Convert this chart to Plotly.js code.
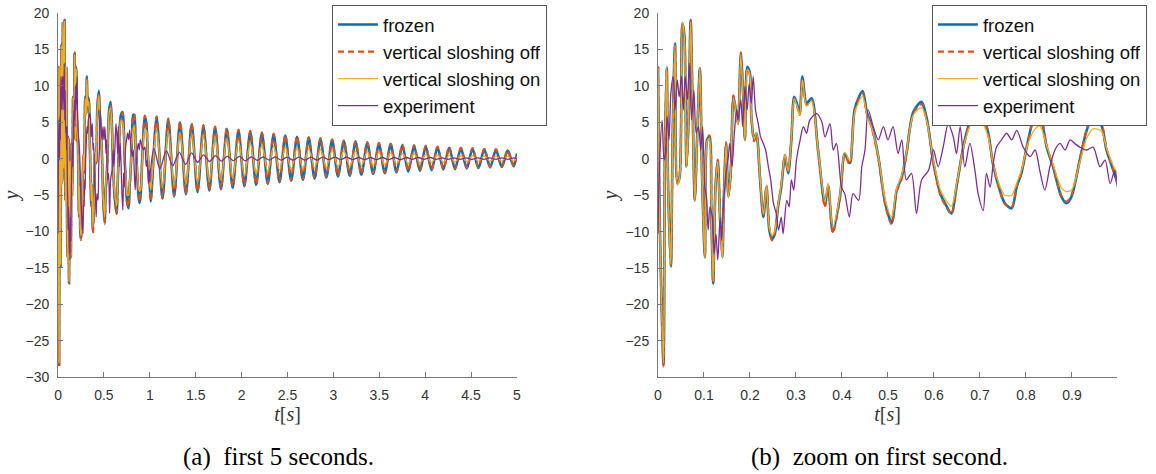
<!DOCTYPE html>
<html>
<head>
<meta charset="utf-8">
<script src="https://cdn.plot.ly/plotly-3.0.1.min.js"></script>
<style>html,body{margin:0;padding:0;background:#fff}#chart{width:1156px;height:474px}</style>
</head>
<body>
<div id="chart"></div>
<script>
// ---- detailed first second (simulations) ----
const tSim = [0, 0.003, 0.007, 0.012, 0.015, 0.019, 0.022, 0.028, 0.032, 0.037,
  0.042, 0.047, 0.053, 0.057, 0.062, 0.066, 0.071, 0.075, 0.080, 0.085,
  0.091, 0.096, 0.102, 0.107, 0.112, 0.116, 0.120, 0.125, 0.130, 0.135,
  0.140, 0.143, 0.148, 0.153, 0.158, 0.164, 0.169, 0.174, 0.180, 0.185,
  0.189, 0.194, 0.200, 0.203, 0.209, 0.214, 0.222, 0.229, 0.236, 0.242,
  0.248, 0.254, 0.261, 0.268, 0.276, 0.283, 0.290, 0.296, 0.302, 0.308,
  0.314, 0.323, 0.334, 0.348, 0.363, 0.370, 0.380, 0.396, 0.406, 0.417,
  0.428, 0.445, 0.454, 0.465, 0.479, 0.494, 0.508, 0.519, 0.530, 0.540,
  0.555, 0.573, 0.585, 0.599, 0.614, 0.624, 0.638, 0.649, 0.667, 0.685,
  0.703, 0.718, 0.728, 0.743, 0.754, 0.769, 0.780, 0.790, 0.805, 0.820,
  0.830, 0.845, 0.859, 0.877, 0.888, 0.899, 0.917, 0.932, 0.946, 0.964,
  0.975, 0.990, 0.998];
const frozenVals = [12.6, -5.7, -18, -28.3, 0.7, 12.5, -3.9, -14.8, 3.5, 15.8,
  -3.4, -2.5, 18.6, 17.2, -1.1, 4.4, 19, 8.1, -5.7, 2.6,
  12.4, -2.9, -13.5, 2.6, 3.0, -7.5, -17.1, -3.9, -0.2, -8.4,
  -13.5, -5.7, 2.1, -5.2, -2.0, 8.5, 6.7, 4.8, 14.4, 9.0,
  2.6, 12.6, 11.7, 5.8, 2.6, 3.5, -2.9, -8.0, -3.9, -9.8,
  -11.0, -10.3, -6.6, -3.9, 0.3, -2.0, 2.6, 8.5, 7.6, 6.2,
  11.3, 7.6, 8.3, 1.2, -6.4, -3.6, -10.0, -5.0, 0.7, -0.6,
  6.9, 9.3, 6.4, 4.4, 0.3, -6.1, -8.8, -4.3, -2.5, 0.7,
  6.4, 7.8, 5.3, -0.6, -4.8, -6.1, -7.5, -3.8, 2.6, 6.0,
  6.4, 3.5, -0.6, -4.3, -6.1, -6.8, -3.8, -2.0, 2.6, 6.0,
  6.0, 1.6, -1.1, -5.2, -6.1, -5.2, -0.2, 3.9, 5.8, 4.6,
  1.2, -1.6, -3.2];
const offVals = [12.7, -5.5, -17.8, -28.5, 0.9, 12.3, -3.7, -14.6, 3.3, 15.6,
  -3.2, -2.3, 18.4, 17.3, -0.9, 4.2, 19.1, 8.3, -5.5, 2.8,
  12.2, -2.7, -13.3, 2.8, 3.2, -7.3, -17.0, -3.7, -0.1, -8.2,
  -13.2, -5.5, 2.3, -5.0, -1.8, 8.7, 6.9, 5.0, 14.6, 9.2,
  2.8, 12.4, 11.5, 5.6, 2.4, 3.3, -2.7, -7.8, -3.7, -9.6,
  -11.2, -10.1, -6.4, -3.7, 0.5, -1.8, 2.8, 8.3, 7.4, 6.0,
  11.0, 7.4, 8.1, 1.0, -6.6, -3.8, -10.2, -5.2, 0.5, -0.8,
  6.7, 9.0, 6.2, 4.2, 0.1, -6.3, -9.0, -4.5, -2.7, 0.5,
  6.2, 7.5, 5.1, -0.8, -5.0, -6.3, -7.6, -3.9, 2.4, 5.8,
  6.3, 3.4, -0.7, -4.4, -6.2, -6.6, -3.7, -1.9, 2.5, 5.9,
  6.1, 1.7, -1.0, -5.1, -5.9, -5.0, -0.1, 4.0, 5.9, 4.8,
  1.4, -1.5, -3.1];
const onVals = [12.4, -5.9, -18.2, -28.0, 0.5, 12.7, -4.1, -14.5, 3.7, 15.5,
  -3.6, -2.7, 18.8, 16.9, -1.3, 4.6, 18.8, 7.9, -5.9, 2.4,
  12.6, -3.1, -13.7, 2.4, 2.8, -7.7, -16.8, -4.1, -0.4, -8.6,
  -13.7, -5.9, 1.9, -5.4, -2.2, 8.3, 6.5, 4.6, 14.2, 8.8,
  2.4, 12.3, 11.4, 5.9, 2.7, 3.6, -2.6, -7.6, -3.8, -9.4,
  -10.5, -9.9, -6.4, -3.6, 0.5, -1.7, 2.8, 8.2, 7.3, 6.0,
  10.8, 7.2, 7.9, 1.3, -5.9, -3.3, -9.4, -4.7, 0.9, -0.3,
  6.4, 8.6, 6.0, 4.2, 0.4, -5.6, -8.0, -4.0, -2.2, 0.8,
  6.0, 7.0, 4.9, -0.3, -4.3, -5.5, -6.5, -3.5, 2.3, 5.2,
  5.0, 3.0, -0.5, -3.7, -5.0, -5.0, -3.3, -1.6, 2.2, 4.1,
  4.5, 1.8, -0.8, -4.0, -4.5, -4.3, -0.5, 2.8, 4.1, 3.8,
  1.5, -1.0, -2.0];

// ---- seconds 1 to 5 (simulations): successive troughs and peaks ----
const tTail = [1.010, 1.074, 1.138, 1.201, 1.265, 1.329, 1.393, 1.456, 1.520, 1.584,
  1.648, 1.711, 1.775, 1.839, 1.903, 1.966, 2.030, 2.094, 2.158, 2.221,
  2.285, 2.349, 2.413, 2.476, 2.540, 2.604, 2.668, 2.731, 2.795, 2.859,
  2.923, 2.986, 3.050, 3.114, 3.178, 3.241, 3.305, 3.369, 3.433, 3.496,
  3.560, 3.624, 3.688, 3.751, 3.815, 3.879, 3.943, 4.006, 4.070, 4.134,
  4.198, 4.261, 4.325, 4.389, 4.453, 4.516, 4.580, 4.644, 4.708, 4.771,
  4.835, 4.899, 4.963, 5.000];
const frozenTail = [-5.9, 5.7, -5.5, 5.4, -5.2, 5.0, -4.9, 4.7, -4.6, 4.5,
  -4.4, 4.3, -4.2, 4.1, -4.0, 3.9, -3.8, 3.7, -3.6, 3.5,
  -3.45, 3.35, -3.25, 3.15, -3.05, 3.0, -2.9, 2.85, -2.75, 2.7,
  -2.6, 2.55, -2.45, 2.4, -2.35, 2.3, -2.2, 2.15, -2.1, 2.05,
  -2.0, 1.95, -1.9, 1.85, -1.8, 1.75, -1.7, 1.65, -1.6, 1.55,
  -1.5, 1.5, -1.45, 1.4, -1.35, 1.35, -1.3, 1.25, -1.2, 1.2,
  -1.15, 1.1, -1.05, 0.7];
const offTail = [-5.8, 5.8, -5.4, 5.5, -5.1, 5.1, -4.8, 4.8, -4.5, 4.6,
  -4.3, 4.4, -4.1, 4.2, -3.9, 4.0, -3.7, 3.8, -3.5, 3.6,
  -3.35, 3.45, -3.15, 3.25, -2.95, 3.1, -2.8, 2.95, -2.65, 2.8,
  -2.5, 2.65, -2.35, 2.5, -2.25, 2.4, -2.1, 2.25, -2.0, 2.15,
  -1.9, 2.05, -1.8, 1.95, -1.7, 1.85, -1.6, 1.75, -1.5, 1.65,
  -1.4, 1.6, -1.35, 1.5, -1.25, 1.45, -1.2, 1.35, -1.1, 1.3,
  -1.05, 1.2, -0.95, 0.5];
const onTail = [-4.3, 4.2, -4.0, 3.9, -3.8, 3.7, -3.6, 3.5, -3.4, 3.3,
  -3.2, 3.1, -3.0, 2.8, -2.7, 2.5, -2.4, 2.2, -2.1, 1.9,
  -1.8, 1.7, -1.6, 1.55, -1.5, 1.45, -1.4, 1.35, -1.3, 1.25,
  -1.2, 1.15, -1.1, 1.05, -1.05, 1.0, -0.95, 0.95, -0.9, 0.85,
  -0.85, 0.8, -0.75, 0.7, -0.7, 0.65, -0.6, 0.55, -0.55, 0.5,
  -0.5, 0.45, -0.45, 0.42, -0.4, 0.4, -0.38, 0.36, -0.35, 0.33,
  -0.32, 0.3, -0.3, 0.2];

// ---- experiment ----
const tExp = [0, 0.004, 0.009, 0.013, 0.016, 0.020, 0.024, 0.028, 0.033, 0.037,
  0.042, 0.046, 0.051, 0.055, 0.059, 0.064, 0.068, 0.073, 0.078, 0.083,
  0.088, 0.093, 0.097, 0.102, 0.106, 0.109, 0.113, 0.118, 0.122, 0.126,
  0.130, 0.135, 0.138, 0.143, 0.148, 0.153, 0.156, 0.161, 0.166, 0.171,
  0.174, 0.180, 0.184, 0.189, 0.194, 0.198, 0.203, 0.207, 0.212, 0.218,
  0.223, 0.229, 0.234, 0.240, 0.245, 0.251, 0.257, 0.262, 0.268, 0.272,
  0.280, 0.285, 0.290, 0.295, 0.301, 0.309, 0.316, 0.323, 0.330, 0.345,
  0.356, 0.363, 0.374, 0.381, 0.388, 0.399, 0.406, 0.416, 0.424, 0.436,
  0.443, 0.450, 0.457, 0.468, 0.479, 0.490, 0.500, 0.511, 0.522, 0.530,
  0.540, 0.551, 0.562, 0.573, 0.588, 0.599, 0.609, 0.620, 0.631, 0.642,
  0.649, 0.657, 0.667, 0.678, 0.689, 0.696, 0.707, 0.714, 0.722, 0.729,
  0.736, 0.747, 0.758, 0.769, 0.780, 0.794, 0.809, 0.820, 0.830, 0.841,
  0.852, 0.863, 0.874, 0.885, 0.896, 0.906, 0.917, 0.932, 0.946, 0.961,
  0.972, 0.983, 0.993, 0.999];
const expVals = [-10.3, 0.3, 5.3, -0.2, 0.7, 5.8, 2.6, 9.0, 11.3, 6.7,
  10.8, 8.5, 11.3, 6.7, 11.3, 8.1, 13.1, 5.3, 9.4, 3.5,
  4.4, 1.2, 4.4, -3.9, -5.7, -9.8, -6.6, -8.0, -13.0, -10.3,
  -13.9, -8.0, -11.2, -5.7, -2.0, 0.3, 2.1, -1.1, 3.5, 6.7,
  5.3, 8.1, 4.4, 9.9, 6.7, 10.3, 7.6, 11.3, 6.7, 4.8,
  3.0, 2.1, 1.2, -1.1, -2.9, -6.1, -7.5, -9.8, -8.0, -10.3,
  -5.7, -6.6, -2.9, -4.3, -0.2, 2.6, 4.4, 3.5, 5.3, 6.2,
  5.1, 3.0, 4.8, 1.2, 2.1, -3.9, -4.8, -8.0, -4.8, -5.7,
  -1.1, 1.2, 6.7, 4.4, 2.6, 4.4, 2.6, 4.4, 0.7, 2.6,
  -2.9, -2.0, -7.5, -2.9, -1.6, 1.2, -1.1, 1.6, 4.8, 3.0,
  0.7, 4.4, -1.1, 2.1, -1.6, -4.8, -7.1, -2.0, -3.9, -0.6,
  1.6, 2.6, 3.5, 2.6, 3.9, 1.6, 0.3, 1.2, -1.6, -4.3,
  -1.1, 1.2, 2.1, 1.2, 2.6, 2.1, 1.6, 1.2, 1.6, -1.1,
  -0.2, -3.4, -1.6, -3.2];
const tExpTail = [1.005, 1.045, 1.110, 1.180, 1.250, 1.320, 1.390, 1.455, 1.520, 1.585,
  1.650, 1.715, 1.780, 1.845, 1.910, 1.975, 2.040, 2.105, 2.170, 2.235,
  2.300, 2.365, 2.430, 2.495, 2.560, 2.625, 2.690, 2.755, 2.820, 2.885,
  2.950, 3.015, 3.080, 3.145, 3.210, 3.275, 3.340, 3.405, 3.470, 3.535,
  3.600, 3.665, 3.730, 3.795, 3.860, 3.925, 3.990, 4.055, 4.120, 4.185,
  4.250, 4.315, 4.380, 4.445, 4.510, 4.575, 4.640, 4.705, 4.770, 4.835,
  4.900, 4.965, 5.000];
const expTail = [-2.0, 1.4, -1.4, 1.1, -1.0, 0.9, -0.8, 0.8, -0.5, 0.5,
  -0.4, 0.4, -0.35, 0.35, -0.3, 0.3, -0.3, 0.25, -0.25, 0.25,
  -0.2, 0.25, -0.2, 0.2, -0.2, 0.2, -0.2, 0.2, -0.2, 0.2,
  -0.15, 0.2, -0.15, 0.2, -0.15, 0.15, -0.15, 0.15, -0.15, 0.15,
  -0.15, 0.15, -0.15, 0.15, -0.1, 0.15, -0.1, 0.15, -0.1, 0.1,
  -0.1, 0.1, -0.1, 0.1, -0.1, 0.1, -0.1, 0.1, -0.1, 0.1,
  -0.1, 0.1, 0.0];

const seriesNames = ['frozen', 'vertical sloshing off', 'vertical sloshing on', 'experiment'];
const captions = ['(a)\u2002first 5 seconds.', '(b)\u2002zoom on first second.'];

const series = [
  {name: seriesNames[0], x: tSim.concat(tTail), y: frozenVals.concat(frozenTail), color: '#0072BD', width: 2.6, dash: 'solid'},
  {name: seriesNames[1], x: tSim.concat(tTail), y: offVals.concat(offTail), color: '#D95319', width: 2.2, dash: '6px,4px'},
  {name: seriesNames[2], x: tSim.concat(tTail), y: onVals.concat(onTail), color: '#EDB120', width: 1.3, dash: 'solid'},
  {name: seriesNames[3], x: tExp.concat(tExpTail), y: expVals.concat(expTail), color: '#7E2F8E', width: 1.3, dash: 'solid'}
];

const traces = [];
[['x', 'y', 'legend'], ['x2', 'y2', 'legend2']].forEach(function (ax, k) {
  series.forEach(function (s, i) {
    traces.push({
      type: 'scatter', mode: 'lines', name: s.name, x: s.x, y: s.y,
      xaxis: ax[0], yaxis: ax[1], legend: ax[2],
      line: {color: s.color, width: s.width, dash: s.dash, shape: 'spline', smoothing: 0.8},
      hoverinfo: 'skip'
    });
  });
});

const tickFont = {family: 'Liberation Sans, Arial, sans-serif', size: 14, color: '#333'};
const titleFont = {family: 'Liberation Serif, Times New Roman, serif', size: 20, color: '#333'};
const captionFont = {family: 'Liberation Serif, Times New Roman, serif', size: 25, color: '#000'};
const axisCommon = {
  showgrid: false, zeroline: false, showline: true, linecolor: '#777', linewidth: 1,
  ticks: 'inside', ticklen: 5, tickcolor: '#777', tickfont: tickFont, ticklabelstandoff: 5, fixedrange: true
};
const legendCommon = {
  xanchor: 'left', yanchor: 'top', bgcolor: '#fff', bordercolor: '#555', borderwidth: 1,
  font: {family: 'Liberation Sans, Arial, sans-serif', size: 18.5, color: '#111'},
  tracegroupgap: 0, itemwidth: 40
};

const layout = {
  width: 1156, height: 474,
  margin: {l: 0, r: 0, t: 0, b: 0},
  paper_bgcolor: '#fff', plot_bgcolor: '#fff',
  showlegend: true,
  xaxis: Object.assign({}, axisCommon, {domain: [0.0502, 0.4472], range: [0, 5], tick0: 0, dtick: 0.5, anchor: 'y',
    title: {text: '<i>t</i>[<i>s</i>]', font: titleFont, standoff: 2}}),
  yaxis: Object.assign({}, axisCommon, {domain: [0.2046, 0.9726], range: [-30, 20], tick0: 0, dtick: 5, anchor: 'x',
    title: {text: '<i>y</i>', font: titleFont, standoff: 2}}),
  xaxis2: Object.assign({}, axisCommon, {domain: [0.5692, 0.9663], range: [0, 0.998], tick0: 0, dtick: 0.1, anchor: 'y2',
    title: {text: '<i>t</i>[<i>s</i>]', font: titleFont, standoff: 2}}),
  yaxis2: Object.assign({}, axisCommon, {domain: [0.2046, 0.9726], range: [-29.95, 20], tick0: 0, dtick: 5, anchor: 'x2',
    title: {text: '<i>y</i>', font: titleFont, standoff: 2}}),
  legend: Object.assign({}, legendCommon, {x: 0.2872, y: 0.9895}),
  legend2: Object.assign({}, legendCommon, {x: 0.8062, y: 0.9895}),
  annotations: [
    {xref: 'paper', yref: 'paper', x: 0.2413, y: 0.036, xanchor: 'center', yanchor: 'middle', showarrow: false,
     text: captions[0], font: captionFont},
    {xref: 'paper', yref: 'paper', x: 0.7604, y: 0.036, xanchor: 'center', yanchor: 'middle', showarrow: false,
     text: captions[1], font: captionFont}
  ]
};

Plotly.newPlot('chart', traces, layout, {displayModeBar: false, staticPlot: true});
</script>
</body>
</html>
